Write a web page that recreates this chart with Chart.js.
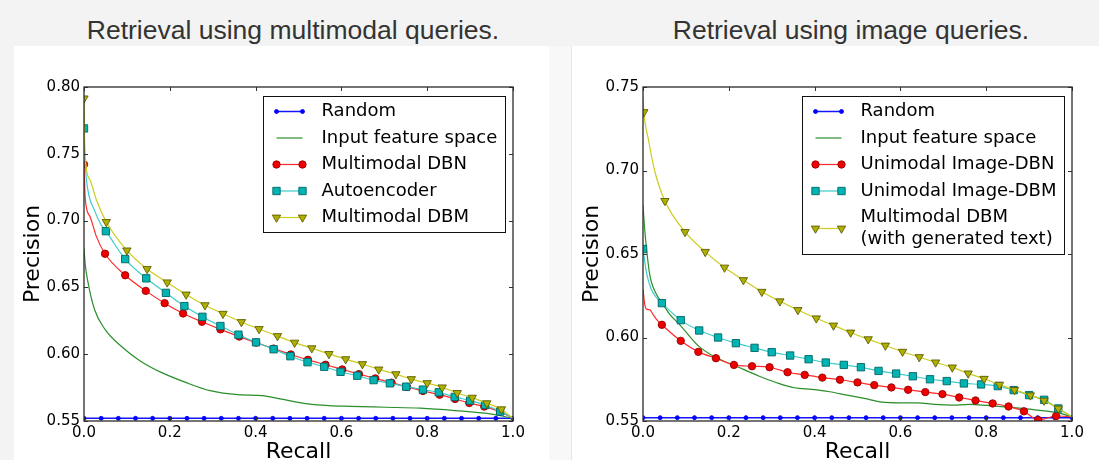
<!DOCTYPE html>
<html>
<head>
<meta charset="utf-8">
<script src="https://cdn.jsdelivr.net/npm/chart.js@4.4.0/dist/chart.umd.min.js"></script>
<style>
  html, body { margin: 0; padding: 0; }
  body { width: 1099px; height: 460px; background: #f3f3f3; position: relative; overflow: hidden; }
  .panel { position: absolute; top: 46px; bottom: 0; background: #fff; }
  #panelL { left: 14px; width: 535px; }
  #gap { left: 549px; width: 22px; background: #f8f8f8; border-right: 1px solid #e4e4e4; }
  #panelR { left: 572px; right: 0; }
  .titulo { position: absolute; top: 15px; line-height: 30px; font-size: 26.5px; color: #333;
            font-family: "Liberation Sans", Arial, sans-serif; white-space: nowrap; transform: translateX(-50%); }
  canvas { position: absolute; top: 46px; }
</style>
</head>
<body>
<div class="panel" id="panelL"></div>
<div class="panel" id="gap"></div>
<div class="panel" id="panelR"></div>
<div class="titulo" style="left:293px">Retrieval using multimodal queries.</div>
<div class="titulo" style="left:851px">Retrieval using image queries.</div>
<canvas id="chartL" width="560" height="420" style="left:0px"></canvas>
<canvas id="chartR" width="540" height="420" style="left:559px"></canvas>
<script>
// Ejes
const xTicks = [0, 0.2, 0.4, 0.6, 0.8, 1.0];
const xTickLabels = ['0.0', '0.2', '0.4', '0.6', '0.8', '1.0'];
const yTicksL = [0.55, 0.60, 0.65, 0.70, 0.75, 0.80];
const yTickLabelsL = ['0.55', '0.60', '0.65', '0.70', '0.75', '0.80'];
const yTicksR = [0.55, 0.60, 0.65, 0.70, 0.75];
const yTickLabelsR = ['0.55', '0.60', '0.65', '0.70', '0.75'];

// ---- Grafica izquierda: consultas multimodales ----
const randomRecall = [0, 0.04, 0.08, 0.12, 0.16, 0.20, 0.24, 0.28, 0.32, 0.36, 0.40, 0.44, 0.48, 0.52, 0.56, 0.60, 0.64, 0.68, 0.72, 0.76, 0.80, 0.84, 0.88, 0.92, 0.96, 1.0];
const randomPrecL = [0.552, 0.552, 0.552, 0.552, 0.552, 0.552, 0.552, 0.552, 0.552, 0.552, 0.552, 0.552, 0.552, 0.552, 0.552, 0.552, 0.552, 0.552, 0.552, 0.552, 0.552, 0.552, 0.552, 0.552, 0.552, 0.552];

const inputRecallL = [0, 0.003, 0.008, 0.0245, 0.049, 0.09, 0.131, 0.18, 0.237, 0.294, 0.359, 0.416, 0.457, 0.522, 0.571, 0.62, 0.702, 0.784, 0.865, 0.947, 1.0];
const inputPrecL = [0.679, 0.667, 0.656, 0.6335, 0.6186, 0.605, 0.595, 0.5864, 0.5789, 0.5727, 0.5697, 0.569, 0.5665, 0.5628, 0.5615, 0.561, 0.5603, 0.5596, 0.5578, 0.5553, 0.552];

const dbnRecallL = [0, 0.049, 0.096, 0.144, 0.188, 0.231, 0.275, 0.318, 0.362, 0.401, 0.442, 0.482, 0.522, 0.563, 0.602, 0.641, 0.679, 0.717, 0.753, 0.790, 0.829, 0.865, 0.898, 0.933, 0.970];
const dbnPrecL = [0.742, 0.6752, 0.6591, 0.6474, 0.6382, 0.6305, 0.6243, 0.6186, 0.6132, 0.6087, 0.6042, 0.5998, 0.5958, 0.5921, 0.5886, 0.5851, 0.5819, 0.5787, 0.5755, 0.5725, 0.5697, 0.5665, 0.5635, 0.5608, 0.557];
const dbnLineRecallL = [0.003, 0.014, 0.029, 1.0];
const dbnLinePrecL = [0.716, 0.703, 0.688, 0.552];

const aeRecallL = [0, 0.051, 0.096, 0.145, 0.191, 0.234, 0.276, 0.318, 0.36, 0.401, 0.442, 0.481, 0.521, 0.56, 0.598, 0.637, 0.675, 0.713, 0.751, 0.790, 0.827, 0.864, 0.9, 0.935, 0.97];
const aePrecL = [0.769, 0.6921, 0.6712, 0.6568, 0.6459, 0.636, 0.628, 0.6211, 0.6146, 0.6089, 0.6037, 0.5985, 0.594, 0.5906, 0.5868, 0.5839, 0.5806, 0.5782, 0.5757, 0.5735, 0.5715, 0.568, 0.5653, 0.562, 0.5571];
const aeLineRecallL = [0.003, 0.009, 0.024, 0.040, 1.0];
const aeLinePrecL = [0.742, 0.723, 0.708, 0.6967, 0.552];

const dbmRecallL = [0, 0.052, 0.1, 0.147, 0.194, 0.238, 0.282, 0.324, 0.367, 0.408, 0.451, 0.491, 0.531, 0.571, 0.61, 0.649, 0.687, 0.727, 0.763, 0.8, 0.835, 0.87, 0.905, 0.939, 0.973];
const dbmPrecL = [0.7915, 0.699, 0.6777, 0.6638, 0.6538, 0.6447, 0.6367, 0.6303, 0.6241, 0.6189, 0.6136, 0.6087, 0.6045, 0.6002, 0.5963, 0.5926, 0.5886, 0.5851, 0.5814, 0.5784, 0.5752, 0.571, 0.5675, 0.5633, 0.5588];
const dbmLineRecallL = [0.002, 0.014, 0.029, 1.0];
const dbmLinePrecL = [0.752, 0.7304, 0.7154, 0.552];

// ---- Grafica derecha: consultas con imagen ----
const randomPrecR = [0.552, 0.552, 0.552, 0.552, 0.552, 0.552, 0.552, 0.552, 0.552, 0.552, 0.552, 0.552, 0.552, 0.552, 0.552, 0.552, 0.552, 0.552, 0.552, 0.552, 0.552, 0.552, 0.552, 0.552, 0.552, 0.552];

const inputRecallR = [0, 0.003, 0.006, 0.0155, 0.031, 0.044, 0.062, 0.088, 0.129, 0.17, 0.212, 0.271, 0.312, 0.353, 0.394, 0.435, 0.475, 0.516, 0.557, 0.598, 0.639, 0.68, 0.72, 0.761, 0.802, 0.843, 0.884, 0.925, 0.966, 1.0];
const inputPrecR = [0.679, 0.668, 0.659, 0.638, 0.626, 0.621, 0.614, 0.607, 0.595, 0.588, 0.5834, 0.5768, 0.5729, 0.5699, 0.5689, 0.5675, 0.5655, 0.5635, 0.5613, 0.5609, 0.5609, 0.5599, 0.5595, 0.5599, 0.5593, 0.5585, 0.5576, 0.5564, 0.555, 0.5525];

const imgDbnRecallR = [0.044, 0.088, 0.129, 0.170, 0.212, 0.254, 0.295, 0.337, 0.377, 0.418, 0.459, 0.5, 0.539, 0.579, 0.618, 0.658, 0.698, 0.737, 0.775, 0.815, 0.852, 0.888, 0.921, 0.963];
const imgDbnPrecR = [0.6076, 0.598, 0.5914, 0.5876, 0.5836, 0.5828, 0.5822, 0.5792, 0.5776, 0.576, 0.5747, 0.5731, 0.5715, 0.5701, 0.5687, 0.5673, 0.5661, 0.5641, 0.5623, 0.5605, 0.5587, 0.5558, 0.5506, 0.553];
const imgDbnLineRecallR = [0, 0.004, 0.008, 0.016, 0.023, 0.031, 1.0];
const imgDbnLinePrecR = [0.629, 0.62, 0.617, 0.6166, 0.614, 0.611, 0.5525];

const imgDbmRecallR = [0, 0.044, 0.088, 0.131, 0.175, 0.2165, 0.26, 0.30, 0.343, 0.386, 0.426, 0.468, 0.508, 0.549, 0.59, 0.629, 0.669, 0.708, 0.748, 0.788, 0.827, 0.864, 0.90, 0.935, 0.968];
const imgDbmPrecR = [0.653, 0.6206, 0.6104, 0.6042, 0.60, 0.5966, 0.5938, 0.5912, 0.5892, 0.587, 0.585, 0.5836, 0.5822, 0.58, 0.5784, 0.5768, 0.575, 0.5739, 0.5725, 0.5719, 0.5709, 0.5685, 0.5655, 0.5627, 0.5575];
const imgDbmLineRecallR = [0.008, 0.019, 0.031, 1.0];
const imgDbmLinePrecR = [0.639, 0.629, 0.624, 0.5525];

const genRecallR = [0.002, 0.051, 0.098, 0.145, 0.19, 0.234, 0.277, 0.319, 0.361, 0.404, 0.444, 0.484, 0.525, 0.565, 0.605, 0.644, 0.682, 0.721, 0.758, 0.795, 0.831, 0.866, 0.903, 0.935, 0.968];
const genPrecR = [0.735, 0.6818, 0.6632, 0.6513, 0.6419, 0.6344, 0.6274, 0.6217, 0.6165, 0.6115, 0.6072, 0.603, 0.599, 0.5952, 0.5915, 0.5883, 0.5851, 0.5821, 0.5785, 0.5753, 0.5718, 0.5686, 0.5654, 0.5622, 0.5575];
const genLineRecallR = [0, 0.013, 0.027, 1.0];
const genLinePrecR = [0.744, 0.718, 0.700, 0.5525];

// Estilos de cada serie (tipo matplotlib)
const estilos = {
    random: { color: '#1414ff', width: 1.5, marker: { style: 'circle', radius: 2, fill: '#0000ff', stroke: '#0000ff' } },
    input:  { color: '#2a8f2a', width: 1.2, marker: null },
    red:    { color: '#ff2b2b', width: 1.2, marker: { style: 'circle', radius: 3.7, fill: '#ee0000', stroke: '#990000' } },
    cyan:   { color: '#3ccccc', width: 1.2, marker: { style: 'rect', radius: 5.2, fill: '#00b4b4', stroke: '#006464' } },
    yellow: { color: '#cccc1e', width: 1.2, marker: { style: 'triangle', rotation: 180, radius: 4.8, fill: '#b0b000', stroke: '#5c5c00' } }
};

// Une los puntos con marcador y los puntos solo de linea
function serie(label, recall, prec, lineRecall, linePrec, st, order) {
    const puntos = recall.map((x, i) => ({ x: x, y: prec[i], m: !!st.marker }))
        .concat(lineRecall.map((x, i) => ({ x: x, y: linePrec[i], m: false })))
        .sort((a, b) => a.x - b.x);
    const mk = st.marker || {};
    return {
        label: label,
        data: puntos,
        order: order,
        estilo: st,
        borderColor: st.color,
        borderWidth: st.width,
        cubicInterpolationMode: 'monotone',
        pointStyle: mk.style || 'circle',
        pointRotation: mk.rotation || 0,
        pointRadius: c => (c.raw && c.raw.m) ? mk.radius : 0,
        pointHoverRadius: c => (c.raw && c.raw.m) ? mk.radius : 0,
        pointBackgroundColor: mk.fill,
        pointBorderColor: mk.stroke,
        pointBorderWidth: 0.9
    };
}

// Marco de los ejes y marcas interiores (como matplotlib)
const marco = {
    id: 'marco',
    afterDatasetsDraw(chart) {
        const { ctx, chartArea: a, scales } = chart;
        ctx.save();
        ctx.strokeStyle = '#333';
        ctx.lineWidth = 1;
        scales.x.ticks.forEach(t => {
            const px = Math.round(scales.x.getPixelForValue(t.value)) + 0.5;
            ctx.beginPath();
            ctx.moveTo(px, a.bottom); ctx.lineTo(px, a.bottom - 4);
            ctx.moveTo(px, a.top); ctx.lineTo(px, a.top + 4);
            ctx.stroke();
        });
        scales.y.ticks.forEach(t => {
            const py = Math.round(scales.y.getPixelForValue(t.value)) + 0.5;
            ctx.beginPath();
            ctx.moveTo(a.left, py); ctx.lineTo(a.left + 4, py);
            ctx.moveTo(a.right, py); ctx.lineTo(a.right - 4, py);
            ctx.stroke();
        });
        ctx.lineWidth = 1.3;
        ctx.strokeStyle = '#2a2a2a';
        ctx.strokeRect(a.left, a.top, a.right - a.left, a.bottom - a.top);
        ctx.restore();
    }
};

function dibujaMarcador(ctx, mk, x, y) {
    ctx.fillStyle = mk.fill;
    ctx.strokeStyle = mk.stroke;
    ctx.lineWidth = 0.9;
    if (Chart.helpers && Chart.helpers.drawPoint) {
        Chart.helpers.drawPoint(ctx, { pointStyle: mk.style, rotation: mk.rotation || 0, radius: mk.radius, borderWidth: 0.9 }, x, y);
        return;
    }
    ctx.beginPath();
    ctx.arc(x, y, mk.radius, 0, Math.PI * 2);
    ctx.fill(); ctx.stroke();
}

// Leyenda con caja dentro del area de la grafica
const cajaLeyenda = {
    id: 'cajaLeyenda',
    afterDraw(chart) {
        const { ctx, chartArea } = chart;
        const sets = chart.data.datasets;
        ctx.save();
        ctx.font = '18px "DejaVu Sans"';
        let maxW = 0;
        const filas = [];
        let y = 15;
        sets.forEach(d => {
            const lineas = [].concat(d.label);
            lineas.forEach(t => { maxW = Math.max(maxW, ctx.measureText(t).width); });
            filas.push({ d: d, lineas: lineas, y: y });
            y += 26.5 + 22 * (lineas.length - 1);
        });
        const ultima = filas[filas.length - 1];
        const alto = ultima.y + 22 * (ultima.lineas.length - 1) + 15;
        const ancho = Math.round(58 + maxW + 8);
        const x0 = Math.round(chartArea.right - 8 - ancho) + 0.5;
        const y0 = Math.round(chartArea.top + 9) + 0.5;

        ctx.fillStyle = '#fff';
        ctx.fillRect(x0, y0, ancho, alto);
        ctx.strokeStyle = '#111';
        ctx.lineWidth = 1;
        ctx.strokeRect(x0, y0, ancho, alto);

        filas.forEach(f => {
            const st = f.d.estilo;
            const cy = y0 + f.y + 22 * (f.lineas.length - 1) / 2;
            ctx.strokeStyle = st.color;
            ctx.lineWidth = st.width;
            ctx.beginPath();
            ctx.moveTo(x0 + 13, cy);
            ctx.lineTo(x0 + 39, cy);
            ctx.stroke();
            if (st.marker) {
                dibujaMarcador(ctx, st.marker, x0 + 13, cy);
                dibujaMarcador(ctx, st.marker, x0 + 39, cy);
            }
            ctx.fillStyle = '#000';
            ctx.textAlign = 'left';
            ctx.textBaseline = 'middle';
            f.lineas.forEach((t, k) => ctx.fillText(t, x0 + 58, y0 + f.y + 22 * k));
        });
        ctx.restore();
    }
};

function creaGrafica(id, datasets, yTicks, yLabels, padRight) {
    const fuenteTicks = { family: 'DejaVu Sans', size: 15 };
    const fuenteTitulo = { family: 'DejaVu Sans', size: 22, lineHeight: 1 };
    return new Chart(document.getElementById(id), {
        type: 'line',
        data: { datasets: datasets },
        options: {
            responsive: false,
            animation: false,
            devicePixelRatio: 1,
            events: [],
            layout: { padding: { top: 41, right: padRight, bottom: 0, left: 0 } },
            plugins: { legend: { display: false }, tooltip: { enabled: false } },
            scales: {
                x: {
                    type: 'linear',
                    min: 0,
                    max: 1,
                    afterBuildTicks: s => { s.ticks = xTicks.map(v => ({ value: v })); },
                    afterFit: s => { s.height = 45; },
                    grid: { display: false, drawTicks: false },
                    border: { display: false },
                    ticks: { callback: (v, i) => xTickLabels[i], font: fuenteTicks, color: '#000', padding: 3, autoSkip: false, maxRotation: 0 },
                    title: { display: true, text: 'Recall', font: fuenteTitulo, color: '#000', padding: { top: 0, bottom: 3 } }
                },
                y: {
                    type: 'linear',
                    min: yTicks[0],
                    max: yTicks[yTicks.length - 1],
                    afterBuildTicks: s => { s.ticks = yTicks.map(v => ({ value: v })); },
                    afterFit: s => { s.width = 84; },
                    grid: { display: false, drawTicks: false },
                    border: { display: false },
                    ticks: { callback: (v, i) => yLabels[i], font: fuenteTicks, color: '#000', padding: 4, autoSkip: false },
                    title: { display: true, text: 'Precision', font: fuenteTitulo, color: '#000', padding: { top: 22, bottom: 0 } }
                }
            }
        },
        plugins: [marco, cajaLeyenda]
    });
}

creaGrafica('chartL', [
    serie('Random', randomRecall, randomPrecL, [], [], estilos.random, 5),
    serie('Input feature space', [], [], inputRecallL, inputPrecL, estilos.input, 4),
    serie('Multimodal DBN', dbnRecallL, dbnPrecL, dbnLineRecallL, dbnLinePrecL, estilos.red, 3),
    serie('Autoencoder', aeRecallL, aePrecL, aeLineRecallL, aeLinePrecL, estilos.cyan, 2),
    serie('Multimodal DBM', dbmRecallL, dbmPrecL, dbmLineRecallL, dbmLinePrecL, estilos.yellow, 1)
], yTicksL, yTickLabelsL, 47);

creaGrafica('chartR', [
    serie('Random', randomRecall, randomPrecR, [], [], estilos.random, 5),
    serie('Input feature space', [], [], inputRecallR, inputPrecR, estilos.input, 4),
    serie('Unimodal Image-DBN', imgDbnRecallR, imgDbnPrecR, imgDbnLineRecallR, imgDbnLinePrecR, estilos.red, 3),
    serie('Unimodal Image-DBM', imgDbmRecallR, imgDbmPrecR, imgDbmLineRecallR, imgDbmLinePrecR, estilos.cyan, 2),
    serie(['Multimodal DBM', '(with generated text)'], genRecallR, genPrecR, genLineRecallR, genLinePrecR, estilos.yellow, 1)
], yTicksR, yTickLabelsR, 27);
</script>
</body>
</html>
